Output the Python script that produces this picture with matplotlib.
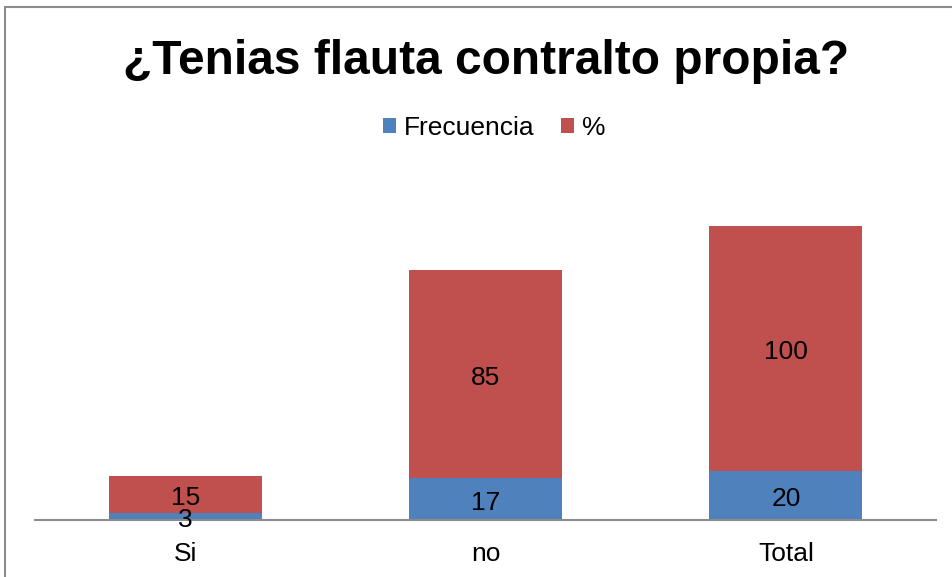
import matplotlib.pyplot as plt
from matplotlib.patches import Rectangle
import numpy as np

categories = ['Si', 'no', 'Total']
frecuencia = [3, 17, 20]
porcentaje = [15, 85, 100]

plt.rcParams['font.family'] = ['Liberation Sans', 'DejaVu Sans']

fig = plt.figure(figsize=(9.53, 5.77), dpi=100)
W, H = 953, 577

# outer chart border (cropped on the right and bottom)
fig.patches.append(Rectangle((5 / W, -0.1), 1.2, 1 - 7 / H + 0.1, transform=fig.transFigure,
                             fill=False, edgecolor='#8c8c8c', linewidth=1.5))

ax = fig.add_axes([35 / W, 57 / H, 901 / W, 343 / H])
x = np.arange(len(categories))
width = 0.51

b1 = ax.bar(x, frecuencia, width, color='#4F81BD', label='Frecuencia')
b2 = ax.bar(x, porcentaje, width, bottom=frecuencia, color='#C0504D', label='%')

labels = ax.bar_label(b1, labels=[str(v) for v in frecuencia], label_type='center', fontsize=19)
labels += ax.bar_label(b2, labels=[str(v) for v in porcentaje], label_type='center', fontsize=19)
for t in labels:
    t.xyann = (0, -2.5)

ax.set_xlim(-0.5, 2.5)
ax.set_ylim(0, 140)
ax.set_xticks(x)
ax.set_xticklabels(categories, fontsize=19)
ax.tick_params(axis='x', length=0, pad=16)
ax.set_yticks([])
for side in ['left', 'right', 'top']:
    ax.spines[side].set_visible(False)
ax.spines['bottom'].set_color('#8c8c8c')
ax.spines['bottom'].set_linewidth(1.5)

fig.text(486 / W, 1 - 62 / H, '¿Tenias flauta contralto propia?', ha='center', va='center',
         fontsize=34.5, fontweight='bold')

fig.legend(handles=[b1, b2], loc='center', bbox_to_anchor=(494 / W, 1 - 128 / H), ncol=2,
           frameon=False, fontsize=19, handlelength=0.5, handleheight=0.5,
           handletextpad=0.3, columnspacing=1.0)

fig.savefig('out.png', dpi=100)
